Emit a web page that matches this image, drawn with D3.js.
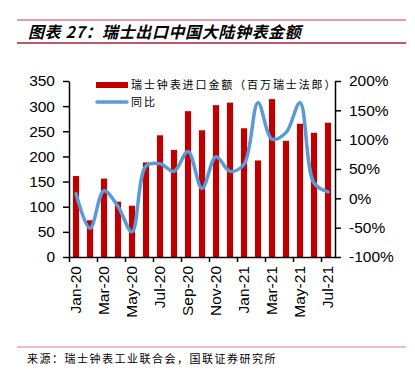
<!DOCTYPE html>
<html>
<head>
<meta charset="utf-8">
<title>瑞士出口中国大陆钟表金额</title>
<style>
	body { margin: 0; background: #fff; }
	.tick text { font-family: "Liberation Sans", Arial, sans-serif; font-size: 15.5px; fill: #000; }
	.cjk { font-family: "Noto Sans CJK SC", sans-serif; }
</style>
</head>
<body>
<svg width="415" height="375"></svg>
<script src="https://cdn.jsdelivr.net/npm/d3@7/dist/d3.min.js"></script>
<script>
// 数据
const months = ["Jan-20","Feb-20","Mar-20","Apr-20","May-20","Jun-20","Jul-20","Aug-20","Sep-20","Oct-20",
	"Nov-20","Dec-20","Jan-21","Feb-21","Mar-21","Apr-21","May-21","Jun-21","Jul-21"]
// 瑞士钟表进口金额（百万瑞士法郎）
const amount = [161, 73, 156, 110, 102, 188, 242, 213, 290, 252, 302, 307, 256, 192, 314, 231, 265, 247, 267]
// 同比 (%)
const yoy = [8, -51, 13, -14, -57, 55, 59, 46, 80, 17, 71, 46, 58, 163, 101, 112, 163, 26, 11]
const leftTicks = [0, 50, 100, 150, 200, 250, 300, 350]
const rightTicks = [-100, -50, 0, 50, 100, 150, 200]

const svg = d3.select("svg")

// 标题
svg.append("line").attr("x1", 17).attr("x2", 406).attr("y1", 20).attr("y2", 20)
	.attr("stroke", "#e2798f").attr("stroke-width", 1.5)
svg.append("text").attr("class", "cjk").attr("x", 28).attr("y", 38)
	.attr("font-size", 16).attr("font-weight", "bold").attr("font-style", "italic")
	.attr("letter-spacing", 0.6)
	.text("图表 27：瑞士出口中国大陆钟表金额")
svg.append("line").attr("x1", 17).attr("x2", 406).attr("y1", 43).attr("y2", 43)
	.attr("stroke", "#a8203c").attr("stroke-width", 1.5)

// 比例尺
const x = d3.scaleBand().domain(months).range([69, 335]).paddingInner(0.56).paddingOuter(0.28)
const xi = d3.scaleLinear().domain([0, months.length]).range([69, 335])
const yL = d3.scaleLinear().domain([0, 350]).range([257, 81])
const yR = d3.scaleLinear().domain([-100, 200]).range([257, 81])

// 柱子
svg.append("g").selectAll("rect").data(amount).enter().append("rect")
	.attr("x", (d, i) => x(months[i]))
	.attr("width", x.bandwidth())
	.attr("y", d => yL(d))
	.attr("height", d => yL(0) - yL(d))
	.attr("fill", "#c00000")

// 同比折线
const line = d3.line()
	.x((d, i) => x(months[i]) + x.bandwidth() / 2)
	.y(d => yR(d))
	.curve(d3.curveCatmullRom)
svg.append("path").datum(yoy).attr("d", line)
	.attr("fill", "none").attr("stroke", "#5b9bd5").attr("stroke-width", 3.5)
	.attr("stroke-linecap", "round")

// 坐标轴
const gl = svg.append("g").attr("transform", "translate(69,0)")
	.call(d3.axisLeft(yL).tickValues(leftTicks).tickSize(6).tickSizeOuter(0).tickPadding(8))
const gr = svg.append("g").attr("transform", "translate(335,0)")
	.call(d3.axisRight(yR).tickValues(rightTicks).tickSize(6).tickSizeOuter(0).tickPadding(8)
		.tickFormat(d => d + "%"))
const gx = svg.append("g").attr("transform", "translate(0,257)")
	.call(d3.axisBottom(xi).tickValues(d3.range(0, months.length + 1, 2)).tickSize(5)
		.tickSizeOuter(0).tickFormat(""))
for (const g of [gl, gr, gx]) {
	g.selectAll("path.domain, line").attr("stroke", "#000").attr("stroke-width", 1.5)
}

// X 轴标签（竖排）
svg.append("g").selectAll("text").data(months.filter((d, i) => i % 2 === 0)).enter().append("text")
	.attr("transform", d => `translate(${x(d) + x.bandwidth() / 2},266) rotate(-90)`)
	.attr("text-anchor", "end").attr("dy", "0.35em")
	.attr("font-family", "Liberation Sans, Arial, sans-serif").attr("font-size", 15.5)
	.text(d => d)

// 图例
const lg = svg.append("g")
lg.append("rect").attr("x", 96).attr("y", 82).attr("width", 32).attr("height", 6).attr("fill", "#c00000")
lg.append("line").attr("x1", 97).attr("x2", 127).attr("y1", 102).attr("y2", 102)
	.attr("stroke", "#5b9bd5").attr("stroke-width", 3.5).attr("stroke-linecap", "round")
lg.append("text").attr("class", "cjk").attr("x", 131).attr("y", 89).attr("font-size", 11)
	.attr("letter-spacing", 1.9).text("瑞士钟表进口金额（百万瑞士法郎）")
lg.append("text").attr("class", "cjk").attr("x", 131).attr("y", 106).attr("font-size", 11)
	.attr("letter-spacing", 1.9).text("同比")

// 来源
svg.append("line").attr("x1", 17).attr("x2", 406).attr("y1", 347).attr("y2", 347)
	.attr("stroke", "#e2798f").attr("stroke-width", 1)
svg.append("text").attr("class", "cjk").attr("x", 27).attr("y", 363).attr("font-size", 11)
	.attr("letter-spacing", 1.5).text("来源：瑞士钟表工业联合会，国联证券研究所")
</script>
</body>
</html>
